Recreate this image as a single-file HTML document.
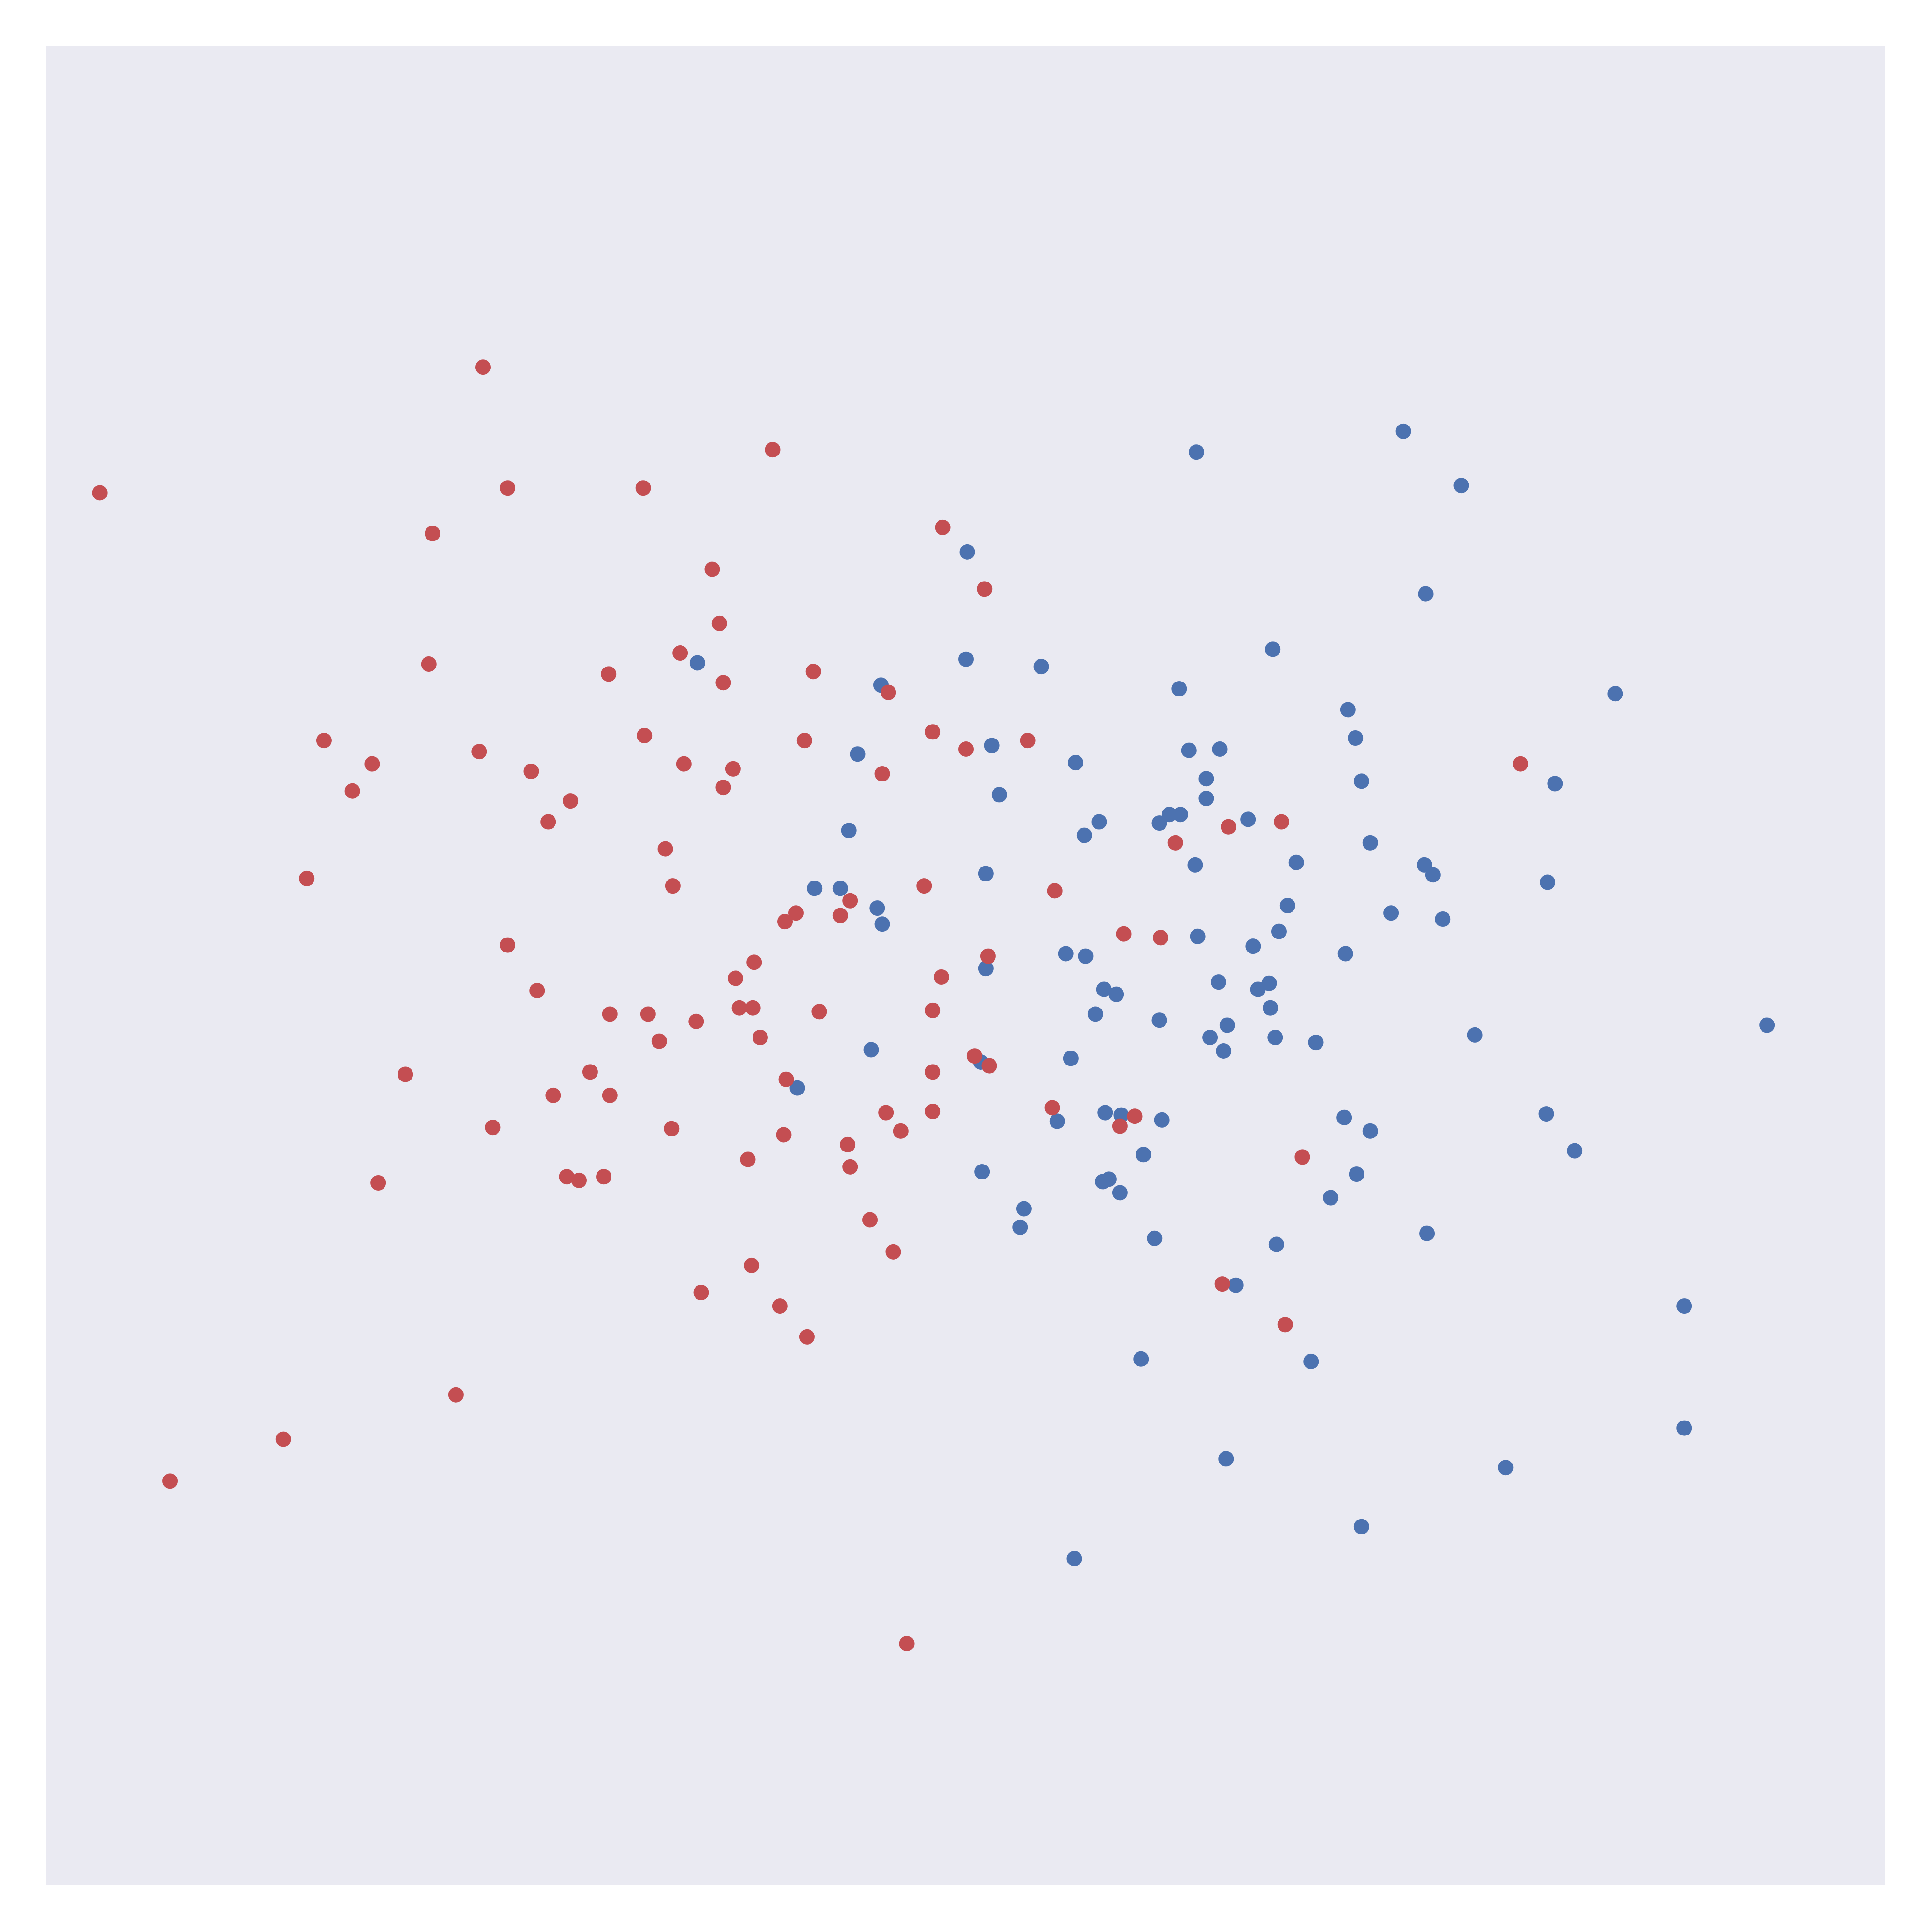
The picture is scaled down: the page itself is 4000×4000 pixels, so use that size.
<!DOCTYPE html>
<html><head><meta charset="utf-8">
<style>
html,body{margin:0;padding:0;background:#fff;width:4000px;height:4000px;overflow:hidden;}
</style></head>
<body>
<svg id="chart" width="4000" height="4000" xmlns="http://www.w3.org/2000/svg">
<rect x="95" y="95" width="3808" height="3808" fill="#eaeaf2"/>
<g id="blue"></g>
<g id="red"></g>
</svg>
<script>
const redX=[392,81,412,522,627,351,578,765,799,584,552,348,494,587,660,721,263,302,389,523,653,757,784,834,286,431,555,595,587,716,463,445,1234,1040,997,954,540,249,546,750,856,690,646,637,682,412,912,942,612,802,597,764,436,600,611,495,526,565,665,757,535,617,791,803,329,479,757,638,449,495,719,757,854,921,909,400,545,636,731,688,607,690,1057,307,460,470,490,706,725,610,992,569,633,1043,655,370,230,138,736];
const redY=[298,400,396,396,365,433,462,428,478,506,530,539,547,554,545,562,601,620,610,597,601,594,608,601,642,626,620,624,639,628,650,667,620,667,671,684,689,713,719,719,723,731,741,748,743,767,758,761,781,776,794,793,804,818,818,823,823,829,821,820,845,842,857,865,872,870,870,876,889,889,903,902,899,906,914,915,916,921,918,929,941,947,939,960,955,958,955,990,1016,1027,1042,1049,1060,1075,1085,1132,1168,1202,1334];
const blueX=[1139,971,1186,785,1157,1033,784,566,845,715,957,1311,1094,1100,805,965,990,696,873,979,1105,1262,811,979,941,949,958,892,1013,880,689,1112,1052,970,1156,1163,800,1256,661,682,712,716,1045,1129,1171,1038,972,1017,865,881,1092,800,989,1030,1021,896,906,889,1031,941,996,982,1035,1068,1197,1434,993,707,869,796,647,897,910,943,858,1091,1112,1255,928,1278,797,1101,895,900,909,1080,831,828,937,1036,1158,1003,1367,926,1064,1367,995,1222,1105,872];
const blueY=[350,367,394,448,482,527,535,538,541,556,559,563,576,599,605,609,608,612,619,632,634,636,645,648,668,661,661,667,665,678,674,684,700,702,702,710,709,716,721,721,737,750,735,741,746,756,760,768,774,776,774,786,797,798,803,803,807,823,818,828,832,842,842,846,840,832,853,852,859,862,883,903,905,909,910,907,918,904,937,934,951,953,959,957,968,972,981,996,1005,1010,1001,1043,1060,1103,1105,1159,1184,1191,1239,1265];
const K=4000/1568;
function sx(v){return v*K;}
function sy(v){return v*K;}
const NS="http://www.w3.org/2000/svg";
function draw(gid,xs,ys,color,name){
  const g=document.getElementById(gid);
  for(let i=0;i<xs.length;i++){
    const c=document.createElementNS(NS,'circle');
    c.setAttribute('cx',sx(xs[i]));
    c.setAttribute('cy',sy(ys[i]));
    c.setAttribute('r',16);
    c.setAttribute('fill',color);
    
    
    g.appendChild(c);
  }
}
draw('blue',blueX,blueY,'#4c72b0','blue-point');
draw('red',redX,redY,'#c44e52','red-point');
</script>
</body></html>
